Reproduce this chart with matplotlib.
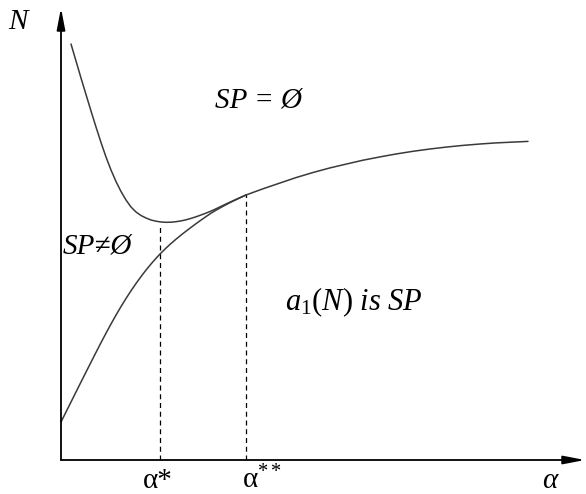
import matplotlib.pyplot as plt

plt.rcParams['font.family'] = ['Liberation Serif', 'DejaVu Serif']
plt.rcParams['mathtext.fontset'] = 'custom'
plt.rcParams['mathtext.rm'] = 'Liberation Serif'
plt.rcParams['mathtext.it'] = 'Liberation Serif:italic'

# curves (alpha, N), arbitrary units
upper_alpha = [10, 15, 20, 25, 30, 35, 40, 45, 50, 55, 60, 65, 70, 75, 80, 85, 90, 95,
               100, 105, 110, 115, 120, 125, 130, 135, 140, 145, 150, 155, 160, 165,
               170, 175, 180, 185]
upper_N = [416, 399, 382, 365.5, 349, 333, 317.5, 303, 290, 278.5, 268.5, 260, 253, 248,
           244.5, 242, 240, 238.8, 238, 237.7, 237.8, 238.3, 239.1, 240.2, 241.6, 243.2,
           245, 246.9, 248.9, 251.2, 253.6, 256, 258.3, 260.6, 262.8, 265]

lower_alpha = [0, 5, 10, 15, 20, 25, 30, 35, 40, 45, 50, 55, 60, 65, 70, 75, 80, 85, 90,
               95, 100, 105, 110, 115, 120, 125, 130, 135, 140, 145, 150, 155, 160, 165,
               170, 175, 180, 185]
lower_N = [38, 48, 58, 68, 78, 87.9, 97.8, 107.6, 117.3, 126.8, 136, 144.9, 153.4, 161.5,
           169.2, 176.5, 183.4, 189.9, 196, 201.7, 207, 211.9, 216.5, 220.8, 224.9, 228.8,
           232.6, 236.3, 239.9, 243.4, 246.8, 249.8, 252.6, 255.3, 257.9, 260.3, 262.7, 265]

# common branch after the tangent point
tail_alpha = [185, 202, 219, 235, 252, 269, 286, 302, 319, 335, 352, 369, 386, 402, 419,
              435, 452, 467]
tail_N = [265, 271.2, 277, 282.4, 287.5, 292.1, 296.1, 299.8, 303.1, 306, 308.7, 311, 313,
          314.6, 316, 317.1, 317.9, 318.6]

alpha_star = 99
alpha_2star = 185
dash_top = [233, 265]

fig = plt.figure(figsize=(5.86, 4.94), dpi=100)
ax = fig.add_axes([61 / 586, 34 / 494, 525 / 586, 452 / 494])
ax.set_xlim(0, 525)
ax.set_ylim(0, 452)
ax.axis('off')

curve_col = '#3a3a3a'
for xs, ys in [(upper_alpha, upper_N), (lower_alpha, lower_N), (tail_alpha, tail_N)]:
    ax.plot(xs, ys, color=curve_col, lw=1.1, clip_on=False,
            solid_joinstyle='round', solid_capstyle='round')

for a, top in zip([alpha_star, alpha_2star], dash_top):
    ax.plot([a, a], [0, top], color='black', lw=0.9, ls=(0, (4, 3)))

# axes with arrows
arr = dict(arrowstyle='-|>,head_length=1.3,head_width=0.25', mutation_scale=10,
           lw=1.3, color='black', shrinkA=0, shrinkB=0)
ax.annotate('', xy=(524, 0), xytext=(0, 0), arrowprops=arr, annotation_clip=False)
ax.annotate('', xy=(0, 452), xytext=(0, 0), arrowprops=arr, annotation_clip=False)

fs = 21
ax.text(-43, 438, 'N', fontsize=fs, style='italic', ha='center', va='center')
ax.text(154, 353, 'SP = Ø', fontsize=fs, style='italic', ha='left', va='baseline')
ax.text(2, 207, 'SP≠Ø', fontsize=fs, style='italic', ha='left', va='baseline')
ax.text(224, 150, r'$a_{\mathit{1}}(N)\ is\ SP$', fontsize=22, ha='left', va='baseline')
ax.text(alpha_star - 17, -28, 'α*', fontsize=fs, ha='left', va='baseline')
ax.text(alpha_2star - 4, -28, r'$\mathrm{\alpha}^{**}$', fontsize=fs, ha='left', va='baseline')
ax.text(481, -28, r'$\alpha$', fontsize=fs, ha='left', va='baseline')

fig.savefig('out.png', dpi=100)
